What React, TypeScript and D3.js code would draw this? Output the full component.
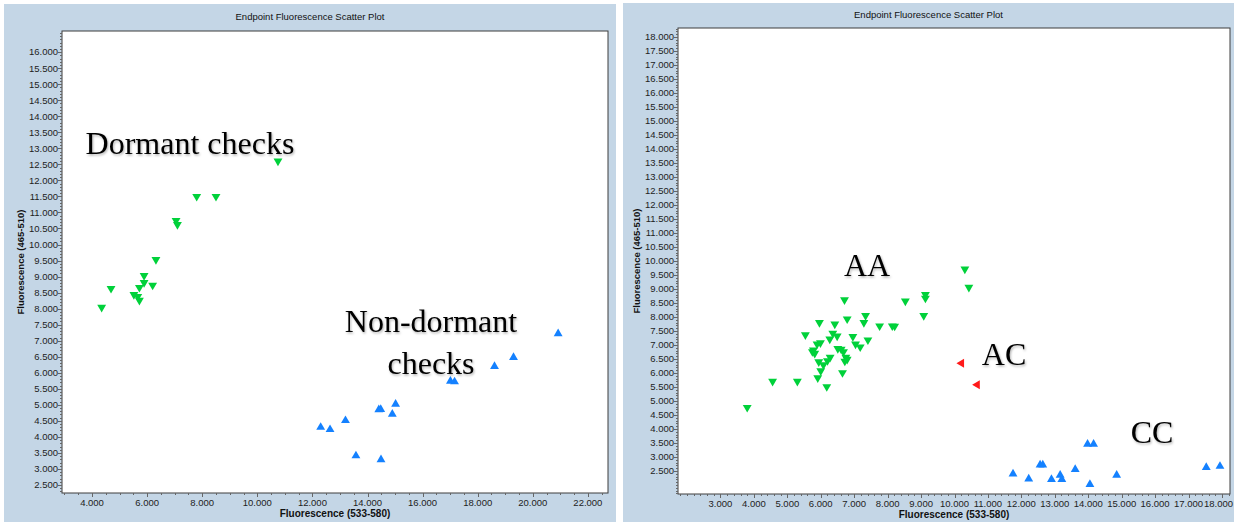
import React from "react";
import * as d3 from "d3";

const TITLE = "Endpoint Fluorescence Scatter Plot";
const X_TITLE = "Fluorescence (533-580)";
const Y_TITLE = "Fluorescence (465-510)";

// left plot: parental checks, [x, y]
const dormantChecks: [number, number][] = [
  [10.75, 12.6], [7.8, 11.5], [8.5, 11.5], [7.05, 10.75], [7.1, 10.62],
  [6.32, 9.53], [5.89, 9.03], [5.89, 8.81], [5.72, 8.66], [6.2, 8.73],
  [4.69, 8.63], [5.52, 8.44], [5.66, 8.38], [5.72, 8.26], [4.35, 8.04],
];
const nonDormantChecks: [number, number][] = [
  [20.92, 7.22], [19.3, 6.48], [18.61, 6.2], [17.01, 5.74], [17.16, 5.72],
  [15.02, 5.02], [14.41, 4.85], [14.48, 4.86], [14.9, 4.71], [13.2, 4.51],
  [12.3, 4.3], [12.64, 4.23], [13.58, 3.41], [14.49, 3.29],
];

// right plot: genotype calls, [x, y]
const aaCalls: [number, number][] = [
  [10.31, 9.71], [10.43, 9.06], [9.13, 8.8], [9.13, 8.67], [8.53, 8.57],
  [6.71, 8.61], [9.08, 8.05], [7.34, 8.05], [6.79, 7.93], [5.96, 7.8],
  [6.42, 7.75], [7.29, 7.8], [7.76, 7.68], [8.14, 7.68], [8.21, 7.67],
  [5.54, 7.36], [6.36, 7.42], [6.49, 7.32], [6.27, 7.21], [6.96, 7.3],
  [7.41, 7.18], [5.99, 7.08], [5.89, 7.03], [7.04, 7.03], [7.18, 6.93],
  [5.78, 6.82], [5.75, 6.76], [5.82, 6.7], [6.51, 6.87], [6.61, 6.85],
  [6.68, 6.76], [6.75, 6.56], [6.79, 6.49], [6.72, 6.42], [6.28, 6.56],
  [6.2, 6.44], [5.94, 6.4], [6.08, 6.29], [6.0, 6.08], [6.65, 6.01],
  [5.91, 5.83], [6.18, 5.51], [4.56, 5.7], [5.3, 5.7], [3.8, 4.77],
];
const acCalls: [number, number][] = [
  [10.21, 6.35], [10.68, 5.58],
];
const ccCalls: [number, number][] = [
  [13.98, 3.46], [14.16, 3.46], [12.56, 2.72], [12.64, 2.72], [11.75, 2.4],
  [12.22, 2.22], [12.9, 2.2], [13.16, 2.35], [13.21, 2.2], [13.61, 2.56],
  [14.05, 2.02], [14.85, 2.35], [17.53, 2.63], [17.94, 2.67],
];

// tick labels
const leftXTicks = d3.range(4, 22.01, 2);
const leftYTicks = d3.range(2.5, 16.01, 0.5);
const rightXTicks = d3.range(3, 18.01, 1);
const rightYTicks = d3.range(2.5, 18.01, 0.5);

const GREEN = "#00d13a";
const BLUE = "#1481ff";
const RED = "#ff1a1a";
const PANEL_BG = "#c4d6e6";
const fmt = d3.format(".3f");

type Series = { data: [number, number][]; color: string; rotate: number };
type Note = { lines: string[]; x: number; y: number };

function Panel(props: {
  box: [number, number, number, number];
  plot: [number, number, number, number]; // x0, x1, y0(top), y1(bottom)
  xDomain: [number, number];
  yDomain: [number, number];
  xTicks: number[];
  yTicks: number[];
  xMinor: number;
  yMinor: number;
  titleY: number;
  series: Series[];
  notes: Note[];
}) {
  const { box, plot, xDomain, yDomain, xTicks, yTicks, xMinor, yMinor, titleY, series, notes } = props;
  const [x0, x1, y0, y1] = plot;
  const x = d3.scaleLinear().domain(xDomain).range([x0, x1]);
  const y = d3.scaleLinear().domain(yDomain).range([y1, y0]);
  const xm = d3.range(Math.ceil(xDomain[0] / xMinor) * xMinor, xDomain[1], xMinor);
  const ym = d3.range(Math.ceil(yDomain[0] / yMinor) * yMinor, yDomain[1], yMinor);
  const tri = d3.symbol(d3.symbolTriangle, 34)();
  const boxRight = box[0] + box[2];

  return (
    <g>
      <rect x={box[0]} y={box[1]} width={box[2]} height={box[3]} fill={PANEL_BG} />
      <text x={box[0] + box[2] / 2} y={titleY} textAnchor="middle" fontSize={9.5} fill="#111">
        {TITLE}
      </text>
      <rect x={x0} y={y0} width={x1 - x0} height={y1 - y0} fill="#fff" stroke="#3c3c3c" strokeWidth={1} />

      {/* y axis */}
      <g stroke="#666" strokeWidth={1}>
        {ym.map((v, i) => (
          <line key={"ym" + i} x1={x0 - 2} x2={x0} y1={Math.round(y(v)) + 0.5} y2={Math.round(y(v)) + 0.5} />
        ))}
        {yTicks.map((v) => (
          <line key={"yt" + v} x1={x0 - 4} x2={x0} y1={Math.round(y(v)) + 0.5} y2={Math.round(y(v)) + 0.5} />
        ))}
      </g>
      {yTicks.map((v) => (
        <text key={"yl" + v} x={x0 - 4} y={y(v)} dy="0.35em" textAnchor="end" fontSize={9.5} fill="#222">
          {fmt(v)}
        </text>
      ))}
      <text
        transform={`translate(${x0 - 38},${(y0 + y1) / 2}) rotate(-90)`}
        textAnchor="middle"
        fontSize={9.5}
        fontWeight="bold"
        fill="#111"
      >
        {Y_TITLE}
      </text>

      {/* x axis */}
      <g stroke="#666" strokeWidth={1}>
        {xm.map((v, i) => (
          <line key={"xm" + i} x1={Math.round(x(v)) + 0.5} x2={Math.round(x(v)) + 0.5} y1={y1} y2={y1 + 2} />
        ))}
        {xTicks.map((v) => (
          <line key={"xt" + v} x1={Math.round(x(v)) + 0.5} x2={Math.round(x(v)) + 0.5} y1={y1} y2={y1 + 4} />
        ))}
      </g>
      {xTicks.map((v) => {
        // keep the last label inside the panel
        const nearEdge = x(v) + 16 > boxRight;
        return (
          <text
            key={"xl" + v}
            x={nearEdge ? boxRight - 1 : x(v)}
            y={y1 + 12.5}
            textAnchor={nearEdge ? "end" : "middle"}
            fontSize={9.5}
            fill="#222"
          >
            {fmt(v)}
          </text>
        );
      })}
      <text x={(x0 + x1) / 2} y={y1 + 24} textAnchor="middle" fontSize={10} fontWeight="bold" fill="#111">
        {X_TITLE}
      </text>

      {/* points */}
      {series.map((s, si) =>
        s.data.map((d, i) => (
          <path
            key={si + "-" + i}
            d={tri || ""}
            transform={`translate(${x(d[0])},${y(d[1])}) rotate(${s.rotate})`}
            fill={s.color}
          />
        ))
      )}

      {/* annotations */}
      {notes.map((n, i) => (
        <text
          key={"n" + i}
          x={n.x}
          y={n.y}
          textAnchor="middle"
          fontFamily="'Liberation Serif', 'Times New Roman', serif"
          fontSize={32}
          fill="#000"
          filter="url(#soft)"
        >
          {n.lines.map((l, j) => (
            <tspan key={j} x={n.x} dy={j === 0 ? 0 : 42}>
              {l}
            </tspan>
          ))}
        </text>
      ))}
    </g>
  );
}

export default function App() {
  return (
    <div style={{ position: "absolute", left: 0, top: 0 }}>
      <svg width={1234} height={522} style={{ display: "block", fontFamily: "'Liberation Sans', Arial, sans-serif" }}>
        <defs>
          <filter id="soft" x="-10%" y="-20%" width="120%" height="150%">
            <feDropShadow dx="1" dy="1.5" stdDeviation="1.2" floodColor="#000" floodOpacity="0.3" />
          </filter>
        </defs>
        <rect width={1234} height={522} fill="#fff" />
        <Panel
          box={[4, 4, 612, 518]}
          plot={[62, 608, 31, 493]}
          xDomain={[2.91, 22.73]}
          yDomain={[2.25, 16.66]}
          xTicks={leftXTicks}
          yTicks={leftYTicks}
          xMinor={0.5}
          yMinor={0.1}
          titleY={20}
          series={[
            { data: dormantChecks, color: GREEN, rotate: 180 },
            { data: nonDormantChecks, color: BLUE, rotate: 0 },
          ]}
          notes={[
            { lines: ["Dormant checks"], x: 190, y: 154 },
            { lines: ["Non-dormant", "checks"], x: 431, y: 332 },
          ]}
        />
        <Panel
          box={[623, 3, 611, 519]}
          plot={[678, 1230, 28, 494]}
          xDomain={[1.73, 18.24]}
          yDomain={[1.68, 18.32]}
          xTicks={rightXTicks}
          yTicks={rightYTicks}
          xMinor={0.2}
          yMinor={0.1}
          titleY={18}
          series={[
            { data: aaCalls, color: GREEN, rotate: 180 },
            { data: acCalls, color: RED, rotate: -90 },
            { data: ccCalls, color: BLUE, rotate: 0 },
          ]}
          notes={[
            { lines: ["AA"], x: 867, y: 276 },
            { lines: ["AC"], x: 1004, y: 365 },
            { lines: ["CC"], x: 1152, y: 443 },
          ]}
        />
      </svg>
    </div>
  );
}
